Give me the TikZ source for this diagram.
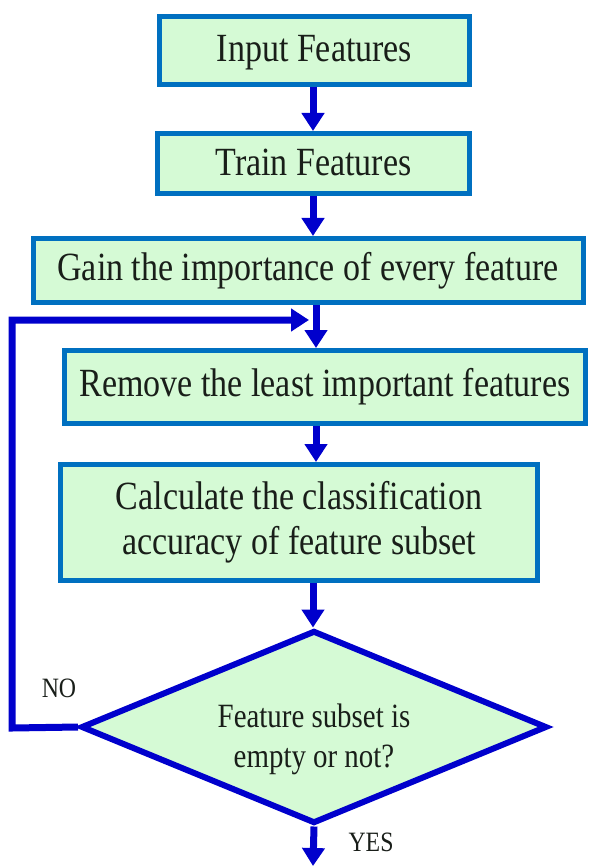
\documentclass[tikz,border=0pt]{standalone}
\usepackage{fontspec}
\setmainfont[FakeStretch=0.85]{Liberation Serif}
\usetikzlibrary{shapes.geometric,arrows.meta}
\definecolor{boxfill}{RGB}{213,250,213}
\definecolor{boxline}{RGB}{0,112,192}
\definecolor{flowblue}{RGB}{0,0,204}
\definecolor{inktext}{RGB}{25,30,25}
\tikzset{
  x=1pt, y=-1pt,
  stepbox/.style={draw=boxline, fill=boxfill, line width=5pt, inner sep=0pt,
    text=inktext, font=\fontsize{40}{45}\selectfont, align=center},
  decision/.style={diamond, draw=flowblue, fill=boxfill, line width=6pt, inner sep=0pt},
  dtext/.style={text=inktext, font=\fontsize{34}{40}\selectfont, align=center, inner sep=0pt},
  arr/.style={draw=flowblue, line width=7pt,
    -{Triangle[length=18pt,width=22pt]}},
  lbl/.style={text=inktext, font=\fontsize{28}{30}\selectfont, inner sep=0pt}
}
\begin{document}
\begin{tikzpicture}
\useasboundingbox (0,0) rectangle (601,866);
% process boxes
\node[stepbox, minimum width=310pt, minimum height=68pt, text depth=4pt] (b1) at (314.5,50.5) {Input Features};
\node[stepbox, minimum width=312pt, minimum height=60pt, text depth=2pt] (b2) at (313.5,163.5) {Train Features};
\node[stepbox, minimum width=550pt, minimum height=64pt] (b3) at (308,270.5) {Gain the importance of every feature};
\node[stepbox, minimum width=521pt, minimum height=73pt] (b4) at (325,387) {Remove the least important features};
\node[stepbox, minimum width=477pt, minimum height=116pt] (b5) at (299,522.5) {Calculate the classification\\accuracy of feature subset};
% decision
\node[decision, minimum width=466pt, minimum height=193pt] (dec) at (314,727) {};
\node[dtext] (dectext) at (314,739) {Feature subset is\\empty or not?};
% vertical flow axis and loop entry point
\coordinate (ax) at (313,0);
\coordinate (ax2) at (316,0);
\coordinate (loopin) at (309,320);
\coordinate (out) at (313,866);
% connectors
\draw[arr] (b1.south -| ax) -- (b2.north -| ax);
\draw[arr] (b2.south -| ax) -- (b3.north -| ax);
\draw[arr] (b3.south -| ax2) -- (b4.north -| ax2);
\draw[arr] (b4.south -| ax2) -- (b5.north -| ax2);
\draw[arr] (b5.south -| ax) -- (dec.north -| ax);
\draw[arr] (dec.south) -- (out);
\draw[arr] (dec.west) -- (12,728) |- (loopin);
% branch labels
\node[lbl] (no) at (59,688) {NO};
\node[lbl] (yes) at (371,842) {YES};
\end{tikzpicture}
\end{document}
